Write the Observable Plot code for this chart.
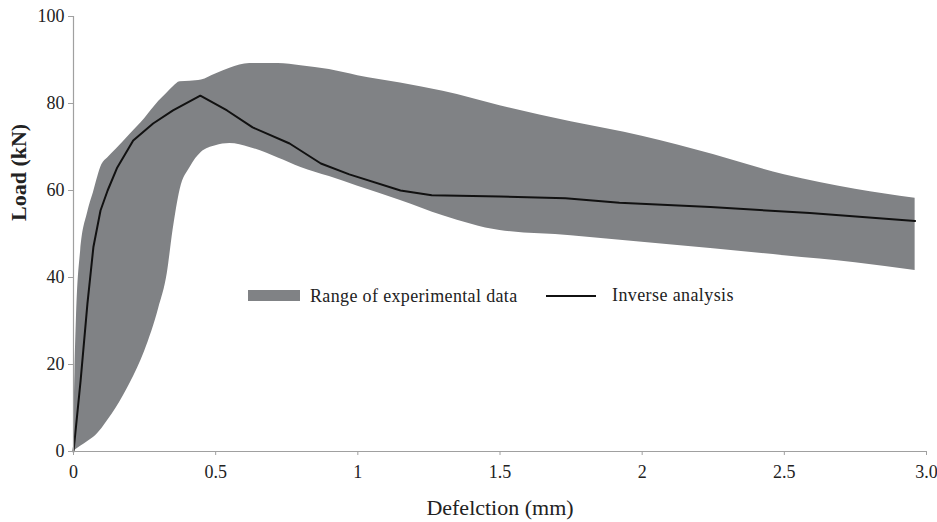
<!DOCTYPE html>
<html>
<head>
<meta charset="utf-8">
<script src="https://cdn.jsdelivr.net/npm/d3@7"></script>
<script src="https://cdn.jsdelivr.net/npm/@observablehq/plot@0.6"></script>
<style>
  html, body { margin: 0; padding: 0; background: #fff; }
  #wrap, #wrap * { font-family: "Liberation Serif", "Times New Roman", Times, "Nimbus Roman", "Noto Serif", "DejaVu Serif", serif !important; }
  #wrap { position: relative; width: 937px; height: 522px; }
  .lg { position: absolute; color: #222; white-space: nowrap; font-size: 18px; line-height: 20px; }
  .sw-area { position: absolute; left: 248px; top: 290px; width: 52px; height: 11px; background: #808285; }
  .sw-line { position: absolute; left: 546px; top: 295px; width: 50px; height: 2px; background: #111; }
</style>
</head>
<body>
<div id="wrap">
  <div id="chart"></div>
  <div class="sw-area"></div>
  <div class="lg" style="left:310px; top:286px; letter-spacing:0.35px;">Range of experimental data</div>
  <div class="sw-line"></div>
  <div class="lg" style="left:612px; top:285px; letter-spacing:0.4px;">Inverse analysis</div>
</div>
<script>
// Range of experimental data (band): common deflection positions
const bandX     = [0, 0.005, 0.01, 0.025, 0.05, 0.07, 0.1, 0.12, 0.15, 0.2, 0.25, 0.3, 0.33, 0.35, 0.375, 0.41, 0.45, 0.5, 0.55, 0.62, 0.72, 0.8, 0.9, 1.0, 1.15, 1.3, 1.5, 1.75, 2.0, 2.25, 2.5, 2.75, 2.96];
const bandUpper = [0, 18, 30, 46, 55, 59.5, 66, 67.5, 69.5, 73, 76.5, 80.5, 82.5, 83.8, 85, 85.1, 85.4, 86.8, 88.1, 89.2, 89.2, 88.7, 87.8, 86.4, 84.7, 82.8, 79.5, 75.8, 72.5, 68.3, 63.6, 60.3, 58.2];
const bandLower = [0, 0.3, 0.5, 1.2, 2.3, 3.2, 5.3, 7.1, 10, 15.8, 23, 33, 41, 50.8, 60.2, 65.3, 68.8, 70.3, 70.8, 69.9, 67.5, 65.3, 63.2, 61, 57.7, 54.2, 50.8, 49.6, 48.1, 46.6, 45, 43.4, 41.6];

// Inverse analysis curve
const invX    = [0, 0.025, 0.049, 0.07, 0.095, 0.12, 0.154, 0.21, 0.28, 0.35, 0.446, 0.54, 0.63, 0.76, 0.87, 0.97, 1.15, 1.26, 1.5, 1.73, 1.92, 2.24, 2.59, 2.96];
const invLoad = [0, 16.3, 34, 47, 55.4, 60, 65.3, 71.5, 75.4, 78.4, 81.8, 78.4, 74.5, 70.8, 66.2, 63.7, 60, 58.9, 58.6, 58.2, 57.2, 56.2, 54.8, 53];

const xTicks = [0, 0.5, 1, 1.5, 2, 2.5, 3];
const xTickLabels = ["0", "0.5", "1", "1.5", "2", "2.5", "3.0"];
const yTicks = [0, 20, 40, 60, 80, 100];

const band = bandX.map((x, i) => ({x, lo: bandLower[i], hi: bandUpper[i]}));
const inv = invX.map((x, i) => ({x, y: invLoad[i]}));

const serif = '"Liberation Serif", "Times New Roman", Times, "Nimbus Roman", "Noto Serif", "DejaVu Serif", serif';
const axisColor = "#a0a0a0";
const chart = Plot.plot({
  width: 937,
  height: 522,
  marginLeft: 73,
  marginRight: 11,
  marginTop: 16,
  marginBottom: 71,
  style: { fontFamily: serif, background: "#fff", color: "#222" },
  x: { domain: [0, 3], range: [73, 926] },
  y: { domain: [0, 100] },
  marks: [
    Plot.areaY(band, { x: "x", y1: "lo", y2: "hi", fill: "#808285", curve: "monotone-x" }),
    Plot.line(inv, { x: "x", y: "y", stroke: "#111", strokeWidth: 2 }),
    Plot.ruleY([0], { x1: 0, x2: 3, stroke: axisColor, strokeWidth: 1.2 }),
    Plot.ruleX([0], { y1: 0, y2: 100, stroke: axisColor, strokeWidth: 1.2 }),
    Plot.axisX({ ticks: xTicks, tickFormat: (d) => xTickLabels[xTicks.indexOf(d)], tickSize: 4, tickPadding: 10, stroke: axisColor, fontSize: 18, fill: "#222", fontFamily: serif, label: null }),
    Plot.axisX({ ticks: [], label: "Defelction (mm)", labelAnchor: "center", labelArrow: "none", labelOffset: 63, fontSize: 22, fill: "#222", fontFamily: serif }),
    Plot.axisY({ ticks: yTicks, tickSize: 5, tickPadding: 4, stroke: axisColor, fontSize: 18, fill: "#222", fontFamily: serif, label: null }),
    Plot.text(["Load (kN)"], { frameAnchor: "left", rotate: -90, dx: -55, dy: -13, fontSize: 22, fontWeight: "bold", fill: "#222", fontFamily: serif })
  ]
});
document.getElementById("chart").appendChild(chart);
</script>
</body>
</html>
